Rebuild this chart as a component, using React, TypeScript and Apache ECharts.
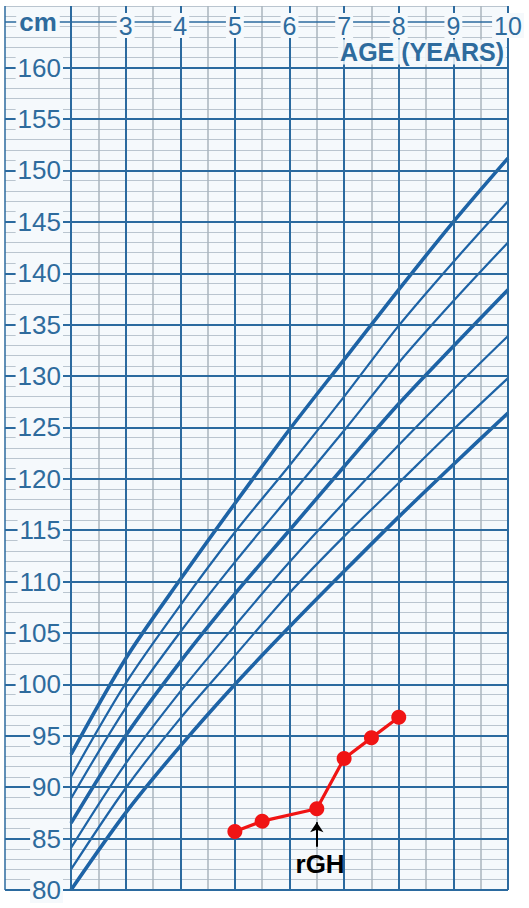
import React, { useEffect, useRef } from "react";
import * as echarts from "echarts";

// ---- data ----
const ages = [2, 3, 4, 5, 6, 7, 8, 9, 10];
const p3 = [80.0, 87.5, 94.0, 100.0, 105.6, 111.0, 116.3, 121.4, 126.4];
const p10 = [82.0, 89.9, 96.7, 102.8, 108.9, 114.4, 119.6, 124.8, 129.8];
const p25 = [84.1, 92.3, 99.3, 105.7, 111.9, 117.7, 123.3, 128.7, 133.9];
const p50 = [86.5, 95.0, 102.2, 108.8, 115.0, 121.2, 127.3, 132.9, 138.4];
const p75 = [88.9, 97.7, 105.1, 111.9, 118.3, 124.7, 131.3, 137.3, 143.0];
const p90 = [91.0, 100.1, 107.7, 114.8, 121.3, 128.0, 134.9, 141.1, 147.0];
const p97 = [93.2, 102.5, 110.2, 117.6, 124.8, 131.6, 138.4, 145.0, 151.2];

const patientAge = [5.0, 5.5, 6.5, 7.0, 7.5, 8.0];
const patientHeight = [85.7, 86.7, 87.9, 92.8, 94.8, 96.8];

const majorY = [80, 85, 90, 95, 100, 105, 110, 115, 120, 125, 130, 135, 140, 145, 150, 155, 160];
const majorX = [2, 3, 4, 5, 6, 7, 8, 9, 10];
const labelRowY = 164.5;
const ageTickLabels = [3, 4, 5, 6, 7, 8, 9, 10];

const rghAge = 6.5;
const rghArrowFrom = 84.2;
const rghArrowTo = 86.6;
const rghTextPos = [6.56, 82.5];

// ---- styles ----
const MAJOR = "#2b6a9f";
const MINOR_H = "#bac5cf";
const MINOR_V = "#aab4be";
const CURVE = "#1d63a6";
const TEXT = "#2e6b9d";
const BG = "#f5f9fc";
const RED = "#f01414";
const FONT = "'Liberation Sans', Arial, Helvetica, sans-serif";

const curveDefs = [
  { name: "P97", values: p97, thick: true },
  { name: "P90", values: p90, thick: false },
  { name: "P75", values: p75, thick: false },
  { name: "P50", values: p50, thick: true },
  { name: "P25", values: p25, thick: false },
  { name: "P10", values: p10, thick: false },
  { name: "P3", values: p3, thick: true },
];

export default function App() {
  const ref = useRef<HTMLDivElement>(null);

  useEffect(() => {
    if (!ref.current) return;
    const chart = echarts.init(ref.current, null, { renderer: "svg" });

    const gridTop = 6;
    const gridBottom = 18;

    const option: any = {
      animation: false,
      backgroundColor: "#ffffff",
      textStyle: { fontFamily: FONT },
      grid: [
        { left: 71, right: 21, top: gridTop, bottom: gridBottom, show: true, backgroundColor: BG, borderWidth: 0 },
        { left: 5, width: 66, top: gridTop, bottom: gridBottom, show: true, backgroundColor: BG, borderWidth: 0 },
      ],
      xAxis: [
        {
          type: "value", gridIndex: 0, min: 2, max: 10, interval: 0.5,
          axisLine: { show: false }, axisTick: { show: false }, axisLabel: { show: false },
          splitLine: { show: true, lineStyle: { color: MINOR_V, width: 1.5 } },
        },
        { type: "value", gridIndex: 1, min: 0, max: 1, show: false },
        {
          type: "value", gridIndex: 0, position: "top", min: 2, max: 10, interval: 1, z: 10,
          axisLine: { show: false }, axisTick: { show: false }, splitLine: { show: false },
          axisLabel: {
            inside: true, margin: 7, fontSize: 25, color: TEXT, fontFamily: FONT,
            backgroundColor: BG, padding: [0, 2],
            showMinLabel: false, showMaxLabel: true,
            formatter: (v: number) => (ageTickLabels.indexOf(v) >= 0 ? String(v) : ""),
          },
        },
      ],
      yAxis: [
        {
          type: "value", gridIndex: 0, min: 80, max: 166, interval: 1,
          axisLine: { show: false }, axisTick: { show: false }, axisLabel: { show: false },
          splitLine: { show: true, lineStyle: { color: MINOR_H, width: 1.2 } },
        },
        {
          type: "value", gridIndex: 1, min: 80, max: 166, interval: 1,
          axisLine: { show: false }, axisTick: { show: false }, axisLabel: { show: false },
          splitLine: { show: true, lineStyle: { color: MINOR_H, width: 1.2 } },
        },
        {
          type: "value", gridIndex: 1, position: "right", min: 80, max: 166, interval: 5, z: 10,
          axisLine: { show: false }, axisTick: { show: false }, splitLine: { show: false },
          axisLabel: {
            inside: true, margin: 8, fontSize: 26, color: TEXT, fontFamily: FONT,
            backgroundColor: BG, padding: [0, 2],
            formatter: (v: number) => (majorY.indexOf(v) >= 0 ? String(v) : ""),
          },
        },
      ],
      series: [
        {
          type: "line", name: "majors-main", xAxisIndex: 0, yAxisIndex: 0, data: [], z: 1, silent: true,
          markLine: {
            silent: true, symbol: "none", label: { show: false },
            lineStyle: { color: MAJOR, width: 2, type: "solid" },
            data: [
              ...majorY.map((v) => ({ yAxis: v })),
              ...majorX.map((v) => ({ xAxis: v })),
              { yAxis: labelRowY, lineStyle: { width: 1.5 } },
            ],
          },
        },
        {
          type: "line", name: "majors-labels", xAxisIndex: 1, yAxisIndex: 1, data: [], z: 1, silent: true,
          markLine: {
            silent: true, symbol: "none", label: { show: false },
            lineStyle: { color: MAJOR, width: 2, type: "solid" },
            data: [
              ...majorY.map((v) => ({ yAxis: v })),
              { yAxis: labelRowY, lineStyle: { width: 1.5 } },
              { xAxis: 0, lineStyle: { width: 1.5 } },
            ],
          },
        },
        ...curveDefs.map((c) => ({
          type: "line", name: c.name, xAxisIndex: 0, yAxisIndex: 0, z: 3,
          data: ages.map((a, i) => [a, c.values[i]]),
          smooth: 0.3, showSymbol: false, silent: true,
          lineStyle: { color: CURVE, width: c.thick ? 3.6 : 2.2 },
        })),
        {
          type: "line", name: "patient", xAxisIndex: 0, yAxisIndex: 0, z: 6,
          data: patientAge.map((a, i) => [a, patientHeight[i]]),
          symbol: "circle", symbolSize: 15, showSymbol: true,
          lineStyle: { color: RED, width: 3.2 },
          itemStyle: { color: RED, borderWidth: 0 },
          markLine: {
            silent: true, symbol: ["none", "arrow"], symbolSize: 10,
            label: { show: false },
            lineStyle: { color: "#000000", width: 2, type: "solid" },
            data: [[{ coord: [rghAge, rghArrowFrom] }, { coord: [rghAge, rghArrowTo] }]],
          },
          markPoint: {
            silent: true, symbol: "circle", symbolSize: 0,
            data: [{ coord: rghTextPos, value: "rGH" }],
            label: {
              show: true, position: "inside", formatter: "rGH",
              fontSize: 26, fontWeight: "bold", color: "#000000", fontFamily: FONT,
            },
          },
        },
      ],
      graphic: [
        {
          type: "text", z: 100, x: 38, y: 22,
          style: {
            text: "cm", fill: TEXT, font: `bold 26px ${FONT}`,
            align: "center", verticalAlign: "middle",
            backgroundColor: BG, padding: [0, 3],
          },
        },
        {
          type: "text", z: 100, x: 506, y: 52,
          style: {
            text: "AGE (YEARS)", fill: TEXT, font: `bold 25px ${FONT}`,
            align: "right", verticalAlign: "middle",
            backgroundColor: "rgba(245,249,252,0.85)", padding: [0, 2],
          },
        },
      ],
    };

    chart.setOption(option);
    return () => chart.dispose();
  }, []);

  return (
    <div
      ref={ref}
      style={{ position: "absolute", left: 0, top: 0, width: 529, height: 908 }}
    />
  );
}
